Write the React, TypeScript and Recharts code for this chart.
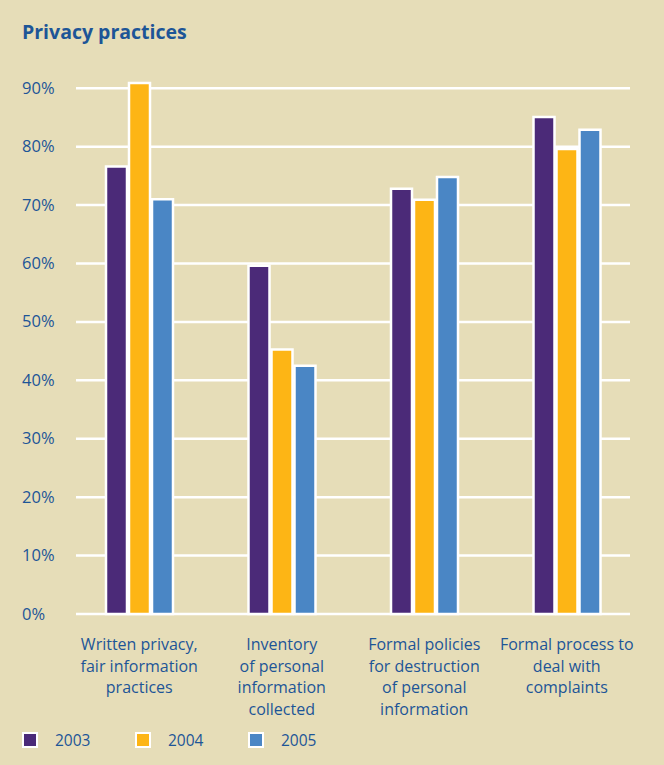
import React from "react";
import { BarChart, Bar, XAxis, YAxis, CartesianGrid } from "recharts";

const categories = [
	"Written privacy,\nfair information\npractices",
	"Inventory\nof personal\ninformation\ncollected",
	"Formal policies\nfor destruction\nof personal\ninformation",
	"Formal process to\ndeal with\ncomplaints",
];
const values2003 = [76.6, 59.6, 72.8, 85.1];
const values2004 = [90.9, 45.3, 70.9, 79.6];
const values2005 = [71.0, 42.5, 74.8, 82.9];
const yTicks = [0, 10, 20, 30, 40, 50, 60, 70, 80, 90];

const BG = "#e6ddb8";
const TEXT = "#1d5597";
const FONT = "'Open Sans', 'Noto Sans', sans-serif";
const COLORS = { y2003: "#4b2a78", y2004: "#fdb515", y2005: "#4a86c5" };

const series = [
	{ key: "y2003", name: "2003" },
	{ key: "y2004", name: "2004" },
	{ key: "y2005", name: "2005" },
];

// build the table recharts wants
const chartData = categories.map((cat, i) => ({
	cat,
	y2003: values2003[i],
	y2004: values2004[i],
	y2005: values2005[i],
}));
const yMax = Math.max(...values2003, ...values2004, ...values2005);

const XTick = (props: any) => {
	const { x, y, payload } = props;
	const lines = String(payload.value).split("\n");
	return (
		<text x={x} y={y} textAnchor="middle" fill={TEXT} fontSize={16} fontFamily={FONT}>
			{lines.map((l, i) => (
				<tspan key={i} x={x} dy={i === 0 ? 36 : 21.5}>
					{l}
				</tspan>
			))}
		</text>
	);
};

const YTick = (props: any) => {
	const { y, payload } = props;
	return (
		<text x={22} y={y + 5.5} textAnchor="start" fill={TEXT} fontSize={16.5} fontFamily={FONT}>
			{payload.value}%
		</text>
	);
};

// grid lines stop a little short of the category bands
const GridLine = (props: any) => (
	<line
		key={props.key}
		x1={props.x1 + 8}
		x2={props.x2 - 8}
		y1={props.y1}
		y2={props.y2}
		stroke="#ffffff"
		strokeWidth={2.5}
	/>
);

// only the labelled ticks get a grid line (not the top of the domain)
const gridRows = ({ offset }: any) =>
	yTicks.map((t) => offset.top + offset.height * (1 - t / yMax));

export default function App() {
	return (
		<div
			style={{
				position: "absolute",
				left: 0,
				top: 0,
				width: 664,
				height: 765,
				background: BG,
				fontFamily: FONT,
			}}>
			<div
				style={{
					position: "absolute",
					left: 22,
					top: 18,
					fontSize: 19.5,
					fontWeight: 700,
					color: TEXT,
				}}>
				Privacy practices
			</div>
			<BarChart
				width={664}
				height={765}
				data={chartData}
				barSize={21}
				barGap={2}
				margin={{ top: 83, right: 26, bottom: 31, left: 0 }}>
				<CartesianGrid
					vertical={false}
					horizontal={GridLine}
					horizontalCoordinatesGenerator={gridRows}
				/>
				<XAxis
					dataKey="cat"
					interval={0}
					axisLine={false}
					tickLine={false}
					tickSize={0}
					tickMargin={0}
					height={120}
					tick={<XTick />}
				/>
				<YAxis
					width={68}
					domain={[0, yMax]}
					ticks={yTicks}
					axisLine={false}
					tickLine={false}
					tick={<YTick />}
				/>
				{series.map((s) => (
					<Bar
						key={s.key}
						dataKey={s.key}
						name={s.name}
						fill={COLORS[s.key as keyof typeof COLORS]}
						stroke="#ffffff"
						strokeWidth={2.5}
						isAnimationActive={false}
					/>
				))}
			</BarChart>
			<div
				style={{
					position: "absolute",
					left: 22,
					top: 729,
					display: "flex",
					fontSize: 15.5,
					color: TEXT,
				}}>
				{series.map((s) => (
					<div key={s.key} style={{ display: "flex", alignItems: "center", width: 113 }}>
						<span
							style={{
								display: "inline-block",
								width: 12,
								height: 12,
								background: COLORS[s.key as keyof typeof COLORS],
								border: "2px solid #ffffff",
								marginRight: 17,
							}}
						/>
						<span>{s.name}</span>
					</div>
				))}
			</div>
		</div>
	);
}
